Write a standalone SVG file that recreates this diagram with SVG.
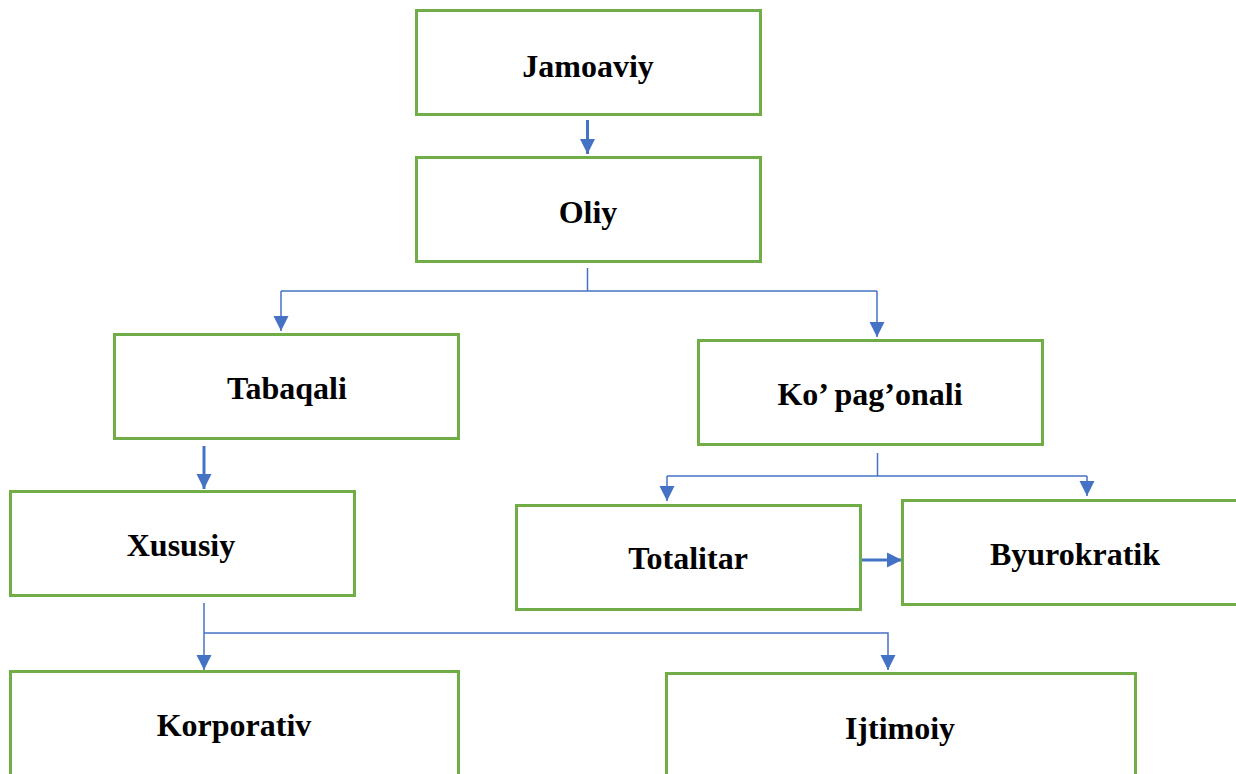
<svg xmlns="http://www.w3.org/2000/svg" width="1236" height="774" viewBox="0 0 1236 774">
<style>
.box{fill:#fff;stroke:#70AD47;stroke-width:3}
.lbl{font-family:"Liberation Serif","Times New Roman",serif;font-weight:bold;font-size:32px;fill:#000;text-anchor:middle}
.con{fill:none;stroke:#4472C4;stroke-width:1.5}
.thick{fill:none;stroke:#4472C4;stroke-width:3}
</style>
<defs>
<marker id="ahb" viewBox="0 0 10 10" refX="10" refY="5" markerWidth="15" markerHeight="16" markerUnits="userSpaceOnUse" orient="auto"><path d="M0,0 L10,5 L0,10 z" fill="#4472C4"/></marker>
</defs>
<rect width="1236" height="774" fill="#fff"/>
<g id="connectors">
<line class="thick" x1="587.5" y1="120" x2="587.5" y2="154" marker-end="url(#ahb)"/>
<line class="con" x1="587.5" y1="268" x2="587.5" y2="291"/>
<line class="con" x1="281" y1="291" x2="877" y2="291"/>
<path class="con" d="M281,291 V331" marker-end="url(#ahb)"/>
<path class="con" d="M877,291 V337" marker-end="url(#ahb)"/>
<line class="thick" x1="204" y1="446" x2="204" y2="489" marker-end="url(#ahb)"/>
<line class="con" x1="877.5" y1="453" x2="877.5" y2="476"/>
<line class="con" x1="667" y1="476" x2="1087" y2="476"/>
<path class="con" d="M667,476 V501" marker-end="url(#ahb)"/>
<path class="con" d="M1087,476 V496" marker-end="url(#ahb)"/>
<line class="thick" x1="860" y1="560" x2="902" y2="560" marker-end="url(#ahb)"/>
<line class="con" x1="204" y1="603" x2="204" y2="670" marker-end="url(#ahb)"/>
<polyline class="con" points="204,633 888,633 888,670" marker-end="url(#ahb)"/>
</g>
<g id="jamoaviy"><rect class="box" x="416.5" y="10.5" width="344" height="104"/><text class="lbl" x="588" y="77">Jamoaviy</text></g>
<g id="oliy"><rect class="box" x="416.5" y="157.5" width="344" height="104"/><text class="lbl" x="588" y="223">Oliy</text></g>
<g id="tabaqali"><rect class="box" x="114.5" y="334.5" width="344" height="104"/><text class="lbl" x="287" y="399">Tabaqali</text></g>
<g id="kopagonali"><rect class="box" x="698.5" y="340.5" width="344" height="104"/><text class="lbl" x="870" y="405">Ko’ pag’onali</text></g>
<g id="xususiy"><rect class="box" x="10.5" y="491.5" width="344" height="104"/><text class="lbl" x="181" y="556">Xususiy</text></g>
<g id="totalitar"><rect class="box" x="516.5" y="505.5" width="344" height="104"/><text class="lbl" x="688" y="569">Totalitar</text></g>
<g id="byurokratik"><rect class="box" x="902.5" y="500.5" width="345" height="104"/><text class="lbl" x="1075" y="565">Byurokratik</text></g>
<g id="korporativ"><rect class="box" x="10.5" y="671.5" width="448" height="110"/><text class="lbl" x="234" y="736">Korporativ</text></g>
<g id="ijtimoiy"><rect class="box" x="666.5" y="673.5" width="469" height="110"/><text class="lbl" x="900" y="739">Ijtimoiy</text></g>
</svg>
